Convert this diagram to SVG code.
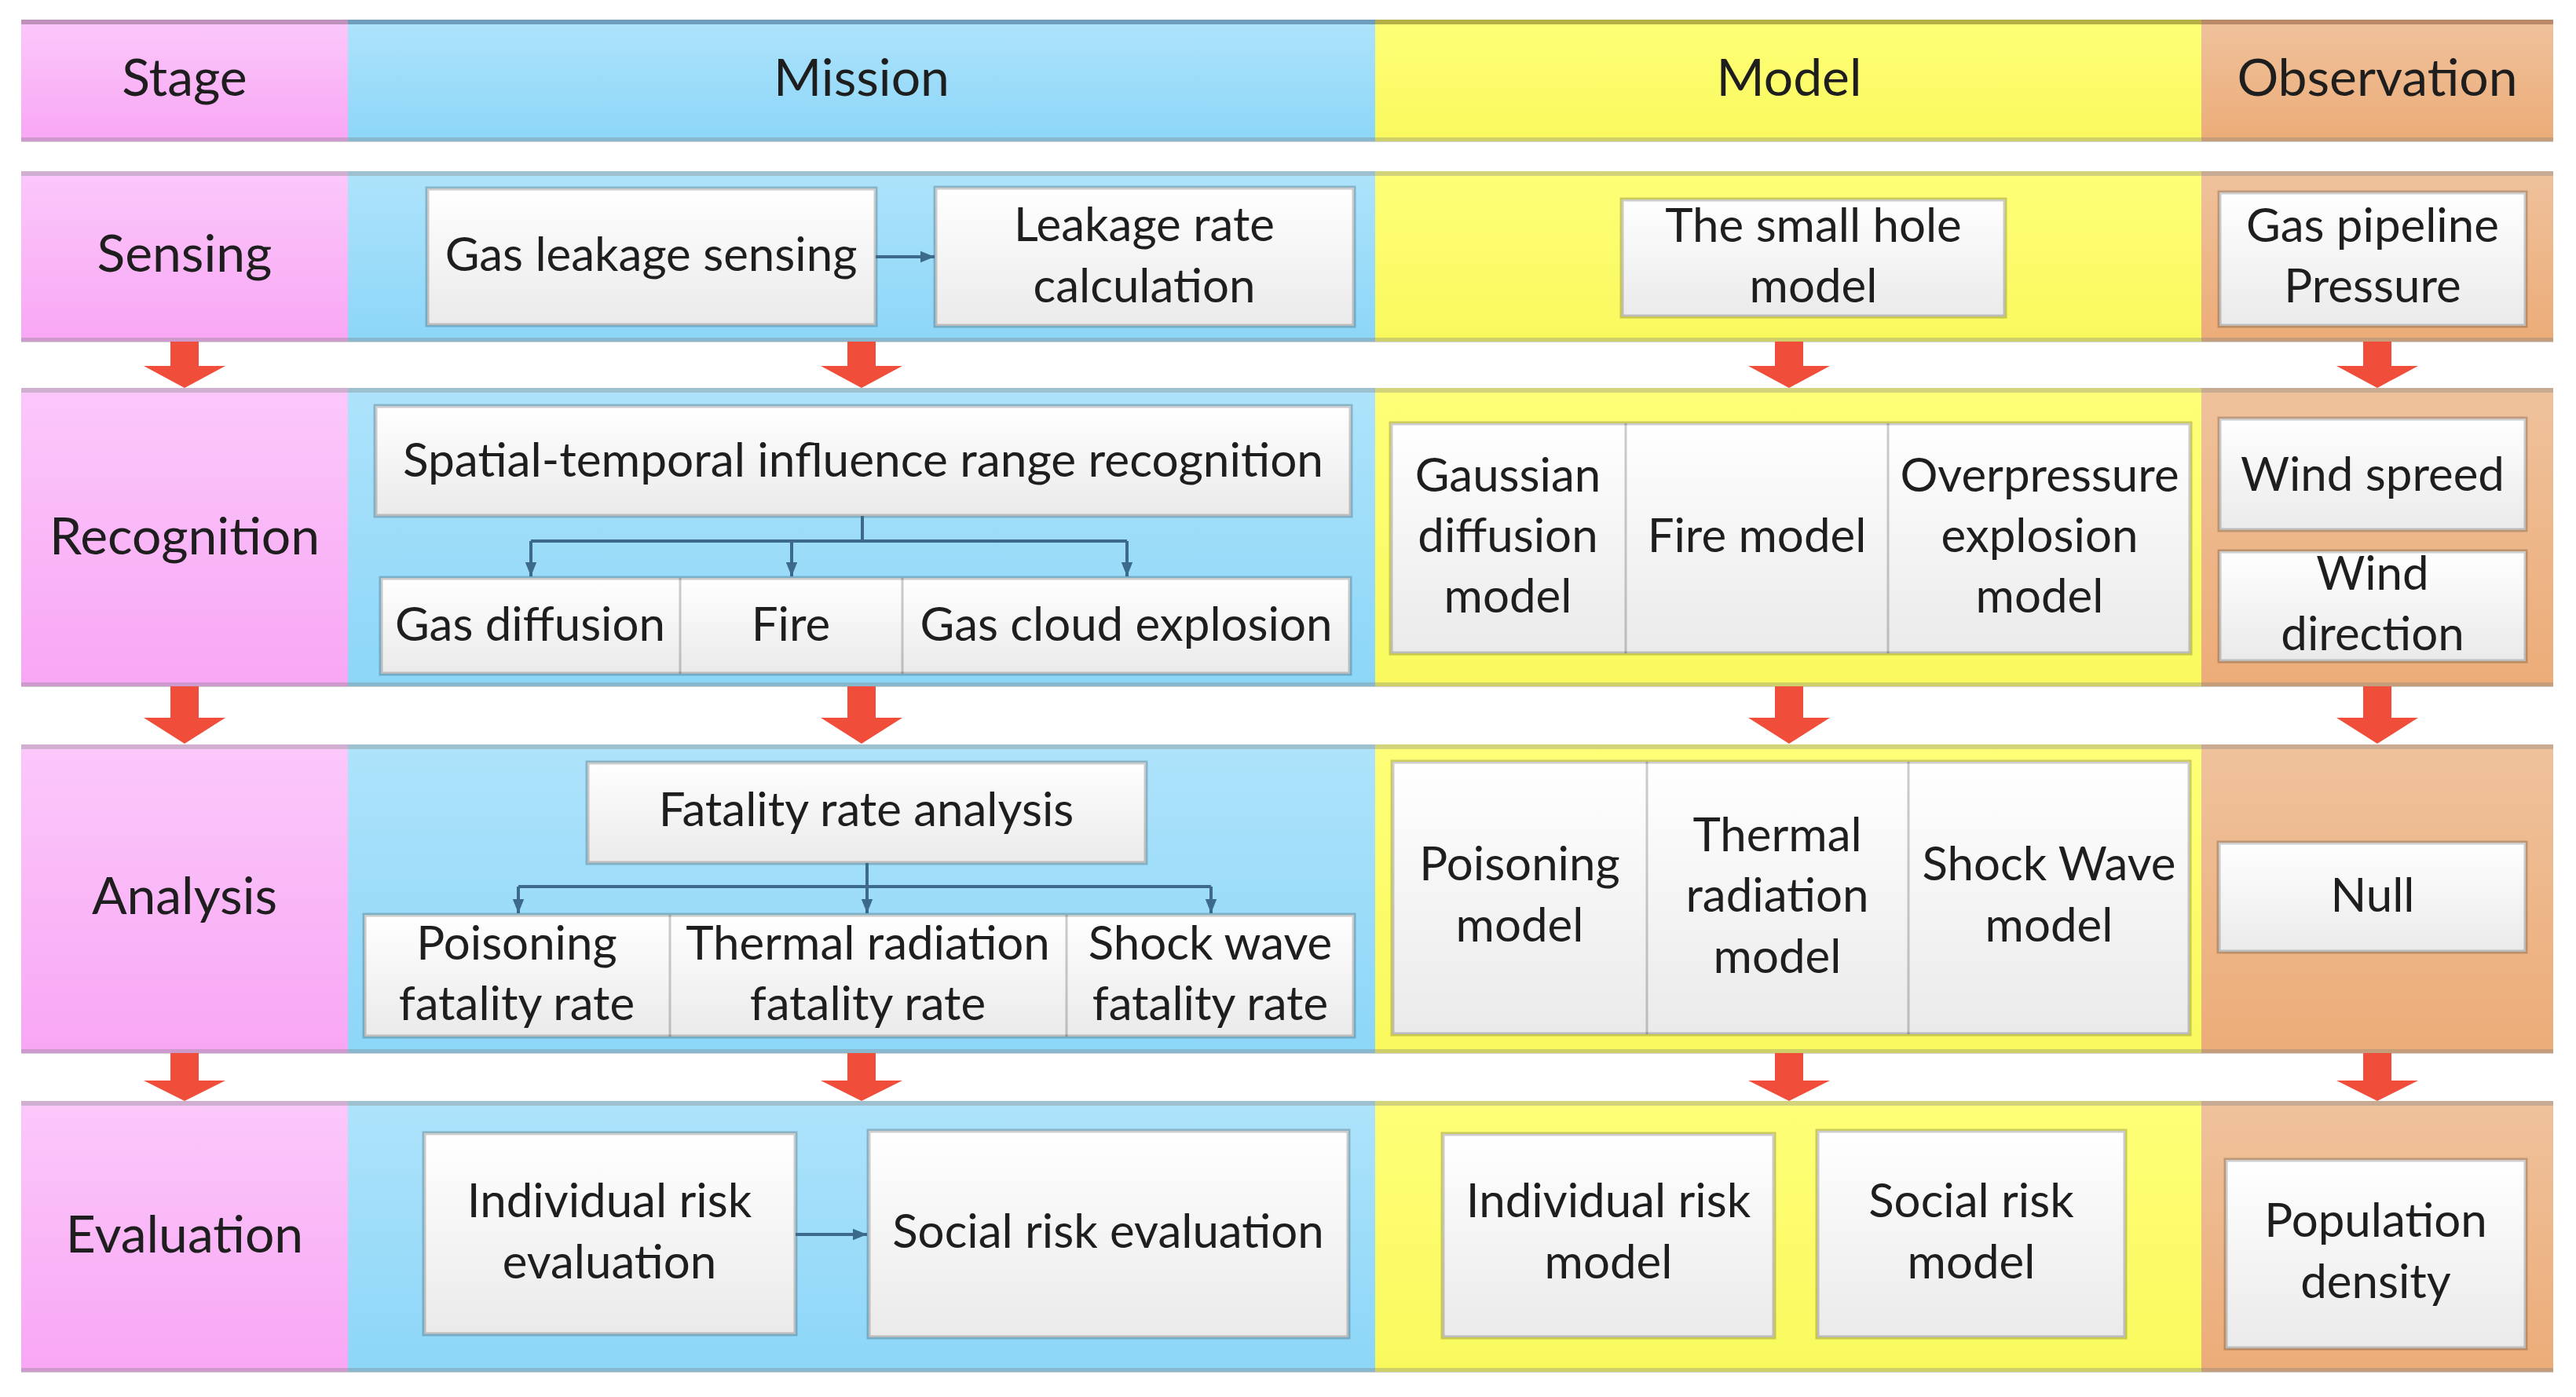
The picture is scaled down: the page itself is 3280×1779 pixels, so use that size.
<svg xmlns="http://www.w3.org/2000/svg" width="3280" height="1779" viewBox="0 0 3280 1779">
<style>
.t{font-family:Lato,"Open Sans","Liberation Sans",sans-serif;font-size:60px;fill:#1e1e1e;text-anchor:middle;dominant-baseline:central;transform:translateY(-4px)}
.h{font-size:66px}
.box{fill:url(#gBox);stroke:#000;stroke-opacity:.2;stroke-width:5}
.div{stroke:#000;stroke-opacity:.2;stroke-width:3}
.con{fill:none;stroke:#3D6A8A;stroke-width:4}
.red{fill:#F04E3A}
.rowline{stroke:#808080;stroke-opacity:.35;stroke-width:6}
</style>
<defs>
<linearGradient id="gBox" x1="0" y1="0" x2="0" y2="1"><stop offset="0" stop-color="#FFFFFF"/><stop offset="1" stop-color="#EAEAEA"/></linearGradient>
<linearGradient id="gPink" x1="0" y1="0" x2="0" y2="1"><stop offset="0" stop-color="#FBC8FA"/><stop offset="1" stop-color="#F8A6F4"/></linearGradient>
<linearGradient id="gBlue" x1="0" y1="0" x2="0" y2="1"><stop offset="0" stop-color="#AEE3FB"/><stop offset="1" stop-color="#8CD6F8"/></linearGradient>
<linearGradient id="gYel" x1="0" y1="0" x2="0" y2="1"><stop offset="0" stop-color="#FFFF78"/><stop offset="1" stop-color="#F9F95E"/></linearGradient>
<linearGradient id="gOr" x1="0" y1="0" x2="0" y2="1"><stop offset="0" stop-color="#EFC29C"/><stop offset="1" stop-color="#ECAC78"/></linearGradient>
<marker id="ah" viewBox="0 0 10 10" refX="10" refY="5" markerUnits="userSpaceOnUse" markerWidth="18" markerHeight="18" orient="auto"><path d="M0,1 L10,5 L0,9 z" fill="#3D6A8A"/></marker>
</defs>
<rect width="3280" height="1779" fill="#FFFFFF"/>

<g id="bands">
<rect x="27" y="25" width="416" height="155" fill="url(#gPink)"/>
<rect x="443" y="25" width="1308" height="155" fill="url(#gBlue)"/>
<rect x="1751" y="25" width="1052" height="155" fill="url(#gYel)"/>
<rect x="2803" y="25" width="448" height="155" fill="url(#gOr)"/>
<line x1="27" y1="28" x2="443" y2="28" stroke="#C090BC" stroke-width="6"/>
<line x1="443" y1="28" x2="1751" y2="28" stroke="#6E9EBE" stroke-width="6"/>
<line x1="1751" y1="28" x2="2803" y2="28" stroke="#B6AE46" stroke-width="6"/>
<line x1="2803" y1="28" x2="3251" y2="28" stroke="#BA8A68" stroke-width="6"/>
<line class="rowline" x1="27" y1="178" x2="3251" y2="178"/>
<rect x="27" y="218" width="416" height="217" fill="url(#gPink)"/>
<rect x="443" y="218" width="1308" height="217" fill="url(#gBlue)"/>
<rect x="1751" y="218" width="1052" height="217" fill="url(#gYel)"/>
<rect x="2803" y="218" width="448" height="217" fill="url(#gOr)"/>
<line class="rowline" x1="27" y1="221" x2="3251" y2="221"/>
<line class="rowline" x1="27" y1="433" x2="3251" y2="433"/>
<rect x="27" y="494" width="416" height="380" fill="url(#gPink)"/>
<rect x="443" y="494" width="1308" height="380" fill="url(#gBlue)"/>
<rect x="1751" y="494" width="1052" height="380" fill="url(#gYel)"/>
<rect x="2803" y="494" width="448" height="380" fill="url(#gOr)"/>
<line class="rowline" x1="27" y1="497" x2="3251" y2="497"/>
<line class="rowline" x1="27" y1="872" x2="3251" y2="872"/>
<rect x="27" y="948" width="416" height="393" fill="url(#gPink)"/>
<rect x="443" y="948" width="1308" height="393" fill="url(#gBlue)"/>
<rect x="1751" y="948" width="1052" height="393" fill="url(#gYel)"/>
<rect x="2803" y="948" width="448" height="393" fill="url(#gOr)"/>
<line class="rowline" x1="27" y1="951" x2="3251" y2="951"/>
<line class="rowline" x1="27" y1="1339" x2="3251" y2="1339"/>
<rect x="27" y="1402" width="416" height="345" fill="url(#gPink)"/>
<rect x="443" y="1402" width="1308" height="345" fill="url(#gBlue)"/>
<rect x="1751" y="1402" width="1052" height="345" fill="url(#gYel)"/>
<rect x="2803" y="1402" width="448" height="345" fill="url(#gOr)"/>
<line class="rowline" x1="27" y1="1405" x2="3251" y2="1405"/>
<line class="rowline" x1="27" y1="1745" x2="3251" y2="1745"/>
</g>

<g id="headers">
<text class="t h" x="235" y="100">Stage</text>
<text class="t h" x="1097" y="100">Mission</text>
<text class="t h" x="2278" y="100">Model</text>
<text class="t h" x="3027" y="100">Observation</text>
</g>

<g id="stage-labels">
<text class="t h" x="235" y="324">Sensing</text>
<text class="t h" x="235" y="684">Recognition</text>
<text class="t h" x="235" y="1142">Analysis</text>
<text class="t h" x="235" y="1573">Evaluation</text>
</g>

<g id="n-gas-leakage-sensing"><rect class="box" x="544" y="240" width="571" height="174"/><text class="t" x="829" y="326">Gas leakage sensing</text></g>
<g id="n-leakage-rate"><rect class="box" x="1191" y="239" width="533" height="176"/><text class="t" x="1457" y="288">Leakage rate</text><text class="t" x="1457" y="366">calculation</text></g>
<g id="n-small-hole"><rect class="box" x="2065" y="254" width="488" height="149"/><text class="t" x="2309" y="289">The small hole</text><text class="t" x="2309" y="366">model</text></g>
<g id="n-pipeline-pressure"><rect class="box" x="2826" y="245" width="390" height="170"/><text class="t" x="3021" y="289">Gas pipeline</text><text class="t" x="3021" y="366">Pressure</text></g>

<g id="n-spatial"><rect class="box" x="478" y="517" width="1242" height="140"/><text class="t" x="1099" y="588" textLength="1172" lengthAdjust="spacingAndGlyphs">Spatial-temporal influence range recognition</text></g>
<g id="n-recog-types"><rect class="box" x="485" y="736" width="1234" height="122"/><line class="div" x1="866" y1="736" x2="866" y2="858"/><line class="div" x1="1149" y1="736" x2="1149" y2="858"/>
<text class="t" x="675" y="797">Gas diffusion</text><text class="t" x="1007" y="797">Fire</text><text class="t" x="1434" y="797">Gas cloud explosion</text></g>
<g id="n-recog-models"><rect class="box" x="1771" y="539" width="1018" height="293"/><line class="div" x1="2070" y1="539" x2="2070" y2="832"/><line class="div" x1="2404" y1="539" x2="2404" y2="832"/>
<text class="t" x="1920" y="607">Gaussian</text><text class="t" x="1920" y="684">diffusion</text><text class="t" x="1920" y="761">model</text>
<text class="t" x="2237" y="684">Fire model</text>
<text class="t" x="2597" y="607">Overpressure</text><text class="t" x="2597" y="684">explosion</text><text class="t" x="2597" y="761">model</text></g>
<g id="n-wind-speed"><rect class="box" x="2826" y="533" width="390" height="142"/><text class="t" x="3021" y="606">Wind spreed</text></g>
<g id="n-wind-direction"><rect class="box" x="2826" y="702" width="390" height="140"/><text class="t" x="3021" y="732">Wind</text><text class="t" x="3021" y="809">direction</text></g>

<g id="n-fatality"><rect class="box" x="748" y="971" width="711" height="128"/><text class="t" x="1103" y="1033">Fatality rate analysis</text></g>
<g id="n-fatality-types"><rect class="box" x="464" y="1165" width="1260" height="155"/><line class="div" x1="853" y1="1165" x2="853" y2="1320"/><line class="div" x1="1358" y1="1165" x2="1358" y2="1320"/>
<text class="t" x="658" y="1203">Poisoning</text><text class="t" x="658" y="1280">fatality rate</text>
<text class="t" x="1105" y="1203">Thermal radiation</text><text class="t" x="1105" y="1280">fatality rate</text>
<text class="t" x="1541" y="1203">Shock wave</text><text class="t" x="1541" y="1280">fatality rate</text></g>
<g id="n-analysis-models"><rect class="box" x="1773" y="970" width="1015" height="347"/><line class="div" x1="2097" y1="970" x2="2097" y2="1317"/><line class="div" x1="2430" y1="970" x2="2430" y2="1317"/>
<text class="t" x="1935" y="1102">Poisoning</text><text class="t" x="1935" y="1180">model</text>
<text class="t" x="2263" y="1065">Thermal</text><text class="t" x="2263" y="1142">radiation</text><text class="t" x="2263" y="1220">model</text>
<text class="t" x="2609" y="1102">Shock Wave</text><text class="t" x="2609" y="1180">model</text></g>
<g id="n-null"><rect class="box" x="2825" y="1073" width="391" height="139"/><text class="t" x="3021" y="1142">Null</text></g>

<g id="n-individual-eval"><rect class="box" x="540" y="1443" width="473" height="256"/><text class="t" x="776" y="1531">Individual risk</text><text class="t" x="776" y="1609">evaluation</text></g>
<g id="n-social-eval"><rect class="box" x="1106" y="1440" width="611" height="263"/><text class="t" x="1411" y="1570">Social risk evaluation</text></g>
<g id="n-individual-model"><rect class="box" x="1837" y="1444" width="422" height="259"/><text class="t" x="2048" y="1531">Individual risk</text><text class="t" x="2048" y="1609">model</text></g>
<g id="n-social-model"><rect class="box" x="2314" y="1440" width="392" height="263"/><text class="t" x="2510" y="1531">Social risk</text><text class="t" x="2510" y="1609">model</text></g>
<g id="n-population"><rect class="box" x="2834" y="1477" width="382" height="240"/><text class="t" x="3025" y="1556">Population</text><text class="t" x="3025" y="1634">density</text></g>

<g id="connectors">
<line class="con" x1="1115" y1="327" x2="1190" y2="327" marker-end="url(#ah)"/>
<path class="con" d="M1098 657 V689 M676 689 H1435"/>
<line class="con" x1="676" y1="689" x2="676" y2="734" marker-end="url(#ah)"/>
<line class="con" x1="1008" y1="689" x2="1008" y2="734" marker-end="url(#ah)"/>
<line class="con" x1="1435" y1="689" x2="1435" y2="734" marker-end="url(#ah)"/>
<path class="con" d="M1104 1099 V1129 M660 1129 H1542"/>
<line class="con" x1="660" y1="1129" x2="660" y2="1163" marker-end="url(#ah)"/>
<line class="con" x1="1104" y1="1129" x2="1104" y2="1163" marker-end="url(#ah)"/>
<line class="con" x1="1542" y1="1129" x2="1542" y2="1163" marker-end="url(#ah)"/>
<line class="con" x1="1013" y1="1572" x2="1104" y2="1572" marker-end="url(#ah)"/>
<g class="red">
<path d="M217 435 h36 v31 h34 l-52 28 l-52 -28 h34 z"/>
<path d="M1079 435 h36 v31 h34 l-52 28 l-52 -28 h34 z"/>
<path d="M2260 435 h36 v31 h34 l-52 28 l-52 -28 h34 z"/>
<path d="M3009 435 h36 v31 h34 l-52 28 l-52 -28 h34 z"/>
<path d="M217 874 h36 v40 h34 l-52 33 l-52 -33 h34 z"/>
<path d="M1079 874 h36 v40 h34 l-52 33 l-52 -33 h34 z"/>
<path d="M2260 874 h36 v40 h34 l-52 33 l-52 -33 h34 z"/>
<path d="M3009 874 h36 v40 h34 l-52 33 l-52 -33 h34 z"/>
<path d="M217 1341 h36 v35 h34 l-52 26 l-52 -26 h34 z"/>
<path d="M1079 1341 h36 v35 h34 l-52 26 l-52 -26 h34 z"/>
<path d="M2260 1341 h36 v35 h34 l-52 26 l-52 -26 h34 z"/>
<path d="M3009 1341 h36 v35 h34 l-52 26 l-52 -26 h34 z"/>
</g>
</g>
</svg>
